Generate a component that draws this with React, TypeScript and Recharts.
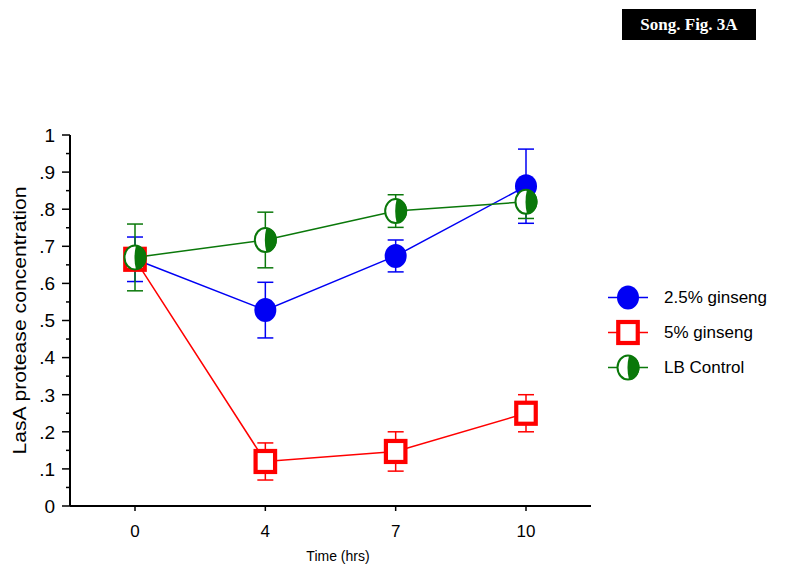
import { LineChart, Line, XAxis, YAxis, ErrorBar, Legend } from 'recharts';

// time points (hrs)
const times = ['0', '4', '7', '10'];

// mean LasA protease concentration + error
const ginseng25 = [0.665, 0.528, 0.674, 0.862];
const ginseng25Err = [0.06, 0.075, 0.043, 0.1];
const ginseng5 = [0.665, 0.12, 0.147, 0.25];
const ginseng5Err = [0.02, 0.05, 0.053, 0.05];
const lbControl = [0.67, 0.717, 0.795, 0.82];
const lbControlErr = [0.09, 0.075, 0.044, 0.045];

const yTicks = [0, 0.05, 0.1, 0.15, 0.2, 0.25, 0.3, 0.35, 0.4, 0.45, 0.5, 0.55, 0.6, 0.65, 0.7, 0.75, 0.8, 0.85, 0.9, 0.95, 1];

const BLUE = '#0000f4';
const RED = '#ff0000';
const GREEN = '#0a780a';

const data = times.map((t, i) => ({
  time: t,
  g25: ginseng25[i],
  g25Err: ginseng25Err[i],
  g5: ginseng5[i],
  g5Err: ginseng5Err[i],
  lb: lbControl[i],
  lbErr: lbControlErr[i],
}));

// marker shapes
const BlueDot = (cx: number, cy: number, key?: string) => (
  <ellipse key={key} cx={cx} cy={cy} rx={11} ry={12} fill={BLUE} />
);
const RedSquare = (cx: number, cy: number, key?: string) => (
  <rect key={key} x={cx - 9.75} y={cy - 10.5} width={19.5} height={21} fill="#fff" stroke={RED} strokeWidth={4.2} />
);
const HalfCircle = (cx: number, cy: number, key?: string) => (
  <g key={key}>
    <ellipse cx={cx} cy={cy} rx={10.5} ry={12} fill="#fff" stroke={GREEN} strokeWidth={2} />
    <path d={`M ${cx + 1} ${cy - 12} A 10.5 12 0 0 1 ${cx + 1} ${cy + 12} Q ${cx - 2} ${cy} ${cx + 1} ${cy - 12} Z`} fill={GREEN} />
  </g>
);

const series = [
  { name: '2.5% ginseng', color: BLUE, marker: BlueDot },
  { name: '5% ginseng', color: RED, marker: RedSquare },
  { name: 'LB Control', color: GREEN, marker: HalfCircle },
];

const fmtY = (v: number) => {
  if (v === 0) return '0';
  if (v === 1) return '1';
  return v.toFixed(1).replace(/^0/, '');
};

const YTick = (props: any) => {
  const { x, y, payload, index } = props;
  const major = index % 2 === 0;
  return (
    <g>
      <line x1={x - (major ? 8 : 4)} x2={x} y1={y} y2={y} stroke="#000" strokeWidth={1.5} />
      {major && (
        <text x={x - 15} y={y} dy="0.36em" textAnchor="end" fontSize={19} fill="#000">
          {fmtY(payload.value)}
        </text>
      )}
    </g>
  );
};

const YLabel = (props: any) => {
  const { viewBox } = props;
  const cx = 20;
  const cy = viewBox.y + viewBox.height / 2;
  return (
    <text x={cx} y={cy} transform={`rotate(-90 ${cx} ${cy})`} textAnchor="middle" dominantBaseline="central"
      fontSize={18} fill="#000" textLength={268} lengthAdjust="spacingAndGlyphs">
      LasA protease concentration
    </text>
  );
};

const XLabel = (props: any) => {
  const { viewBox } = props;
  return (
    <text x={338} y={viewBox.y + 55} textAnchor="middle" fontSize={14} fill="#000">
      Time (hrs)
    </text>
  );
};

const LegendBox = () => (
  <div style={{ fontFamily: 'Arial, "Liberation Sans", sans-serif' }}>
    {series.map(s => (
      <div key={s.name} style={{ display: 'flex', alignItems: 'center', height: 35 }}>
        <svg width={46} height={35} style={{ display: 'block' }}>
          <line x1={2} x2={42} y1={17.5} y2={17.5} stroke={s.color} strokeWidth={1.5} />
          {s.marker(22, 17.5)}
        </svg>
        <span style={{ marginLeft: 12, fontSize: 17, color: '#000', whiteSpace: 'nowrap' }}>{s.name}</span>
      </div>
    ))}
  </div>
);

export default function App() {
  return (
    <div style={{ position: 'absolute', left: 0, top: 0, width: 800, height: 568, background: '#fff', fontFamily: 'Arial, "Liberation Sans", sans-serif' }}>
      <div style={{
        position: 'absolute', left: 622, top: 9, width: 134, height: 31, background: '#000', color: '#fff',
        fontFamily: '"Liberation Serif", "Times New Roman", serif', fontWeight: 'bold', fontSize: 17,
        display: 'flex', alignItems: 'center', justifyContent: 'center', zIndex: 2,
      }}>
        Song. Fig. 3A
      </div>
      <LineChart width={800} height={568} data={data} margin={{ top: 135, right: 209, bottom: 6, left: 0 }}>
        <XAxis
          dataKey="time"
          height={56}
          padding={{ left: 65, right: 65 }}
          axisLine={{ stroke: '#000', strokeWidth: 2 }}
          tickLine={{ stroke: '#000', strokeWidth: 1.5 }}
          tickSize={5}
          tickMargin={14}
          tick={{ fontSize: 17, fill: '#000' }}
          label={<XLabel />}
        />
        <YAxis
          width={70}
          domain={[0, 1]}
          ticks={yTicks}
          interval={0}
          tickSize={0}
          tickMargin={0}
          tickLine={false}
          axisLine={{ stroke: '#000', strokeWidth: 2 }}
          tick={<YTick />}
          label={<YLabel />}
        />
        <Legend layout="vertical" align="center" verticalAlign="middle" content={<LegendBox />}
          wrapperStyle={{ left: 606, top: 280, width: 190, height: 105 }} />
        <Line dataKey="g25" name={series[0].name} stroke={BLUE} strokeWidth={1.5} isAnimationActive={false}
          activeDot={false} dot={(p: any) => BlueDot(p.cx, p.cy, `b${p.index}`)}>
          <ErrorBar dataKey="g25Err" width={8} stroke={BLUE} strokeWidth={1.5} direction="y" />
        </Line>
        <Line dataKey="g5" name={series[1].name} stroke={RED} strokeWidth={1.5} isAnimationActive={false}
          activeDot={false} dot={(p: any) => RedSquare(p.cx, p.cy, `r${p.index}`)}>
          <ErrorBar dataKey="g5Err" width={8} stroke={RED} strokeWidth={1.5} direction="y" />
        </Line>
        <Line dataKey="lb" name={series[2].name} stroke={GREEN} strokeWidth={1.5} isAnimationActive={false}
          activeDot={false} dot={(p: any) => HalfCircle(p.cx, p.cy, `g${p.index}`)}>
          <ErrorBar dataKey="lbErr" width={8} stroke={GREEN} strokeWidth={1.5} direction="y" />
        </Line>
      </LineChart>
    </div>
  );
}
